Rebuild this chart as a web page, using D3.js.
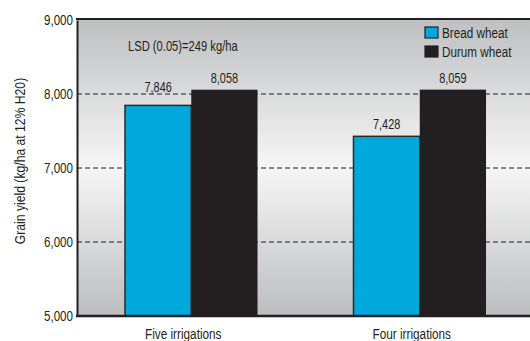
<!DOCTYPE html>
<html>
<head>
<meta charset="utf-8">
<script src="https://cdn.jsdelivr.net/npm/d3@7"></script>
<style>
  html, body { margin: 0; padding: 0; background: #ffffff; }
  svg { display: block; }
  text { font-family: "Liberation Sans", Arial, sans-serif; fill: #231f20; }
</style>
</head>
<body>
<script>
// Grain yield by irrigation regime and wheat type
const groups = ["Five irrigations", "Four irrigations"];
const seriesNames = ["Bread wheat", "Durum wheat"];
const breadWheat = [7846, 7428];
const durumWheat = [8058, 8059];
const yTicks = [5000, 6000, 7000, 8000, 9000];
const gridValues = [6000, 7000, 8000];
const lsdNote = "LSD (0.05)=249 kg/ha";
const yTitle = "Grain yield (kg/ha at 12% H20)";

const colors = ["#00a8dc", "#231f20"];
const W = 530, H = 341;
const m = { top: 20, right: -4, bottom: 25, left: 77 };
const fmt = d3.format(",");

const svg = d3.select("body").append("svg").attr("width", W).attr("height", H);

const x0 = d3.scaleBand().domain(groups).range([m.left, W - m.right]).paddingInner(0.42).paddingOuter(0.21);
const x1 = d3.scaleBand().domain(seriesNames).range([0, x0.bandwidth()]);
const y = d3.scaleLinear().domain([5000, 9000]).range([H - m.bottom, m.top]);

// Condensed lettering: a horizontally squeezed sans placed at (x, y)
function label(parent, x, yy, str, size, sx, anchor) {
  return parent.append("text")
    .attr("transform", `translate(${x},${yy}) scale(${sx},1)`)
    .attr("font-size", size)
    .attr("text-anchor", anchor || "start")
    .text(str);
}

// Plot background: grey fading to white in the middle and back to grey
const defs = svg.append("defs");
const grad = defs.append("linearGradient").attr("id", "bg").attr("x1", 0).attr("y1", 0).attr("x2", 0).attr("y2", 1);
grad.append("stop").attr("offset", "0%").attr("stop-color", "#bfc0c2");
grad.append("stop").attr("offset", "50%").attr("stop-color", "#f6f6f6");
grad.append("stop").attr("offset", "100%").attr("stop-color", "#bcbdbf");

svg.append("rect")
  .attr("x", m.left).attr("y", y(9000))
  .attr("width", W - m.left).attr("height", y(5000) - y(9000))
  .attr("fill", "url(#bg)");

// Dashed reference lines
svg.append("g").selectAll("line").data(gridValues).join("line")
  .attr("x1", m.left).attr("x2", W)
  .attr("y1", d => y(d)).attr("y2", d => y(d))
  .attr("stroke", "#231f20").attr("stroke-width", 1)
  .attr("stroke-dasharray", "5,3");

// Bars
const rows = groups.map((g, i) => ({ group: g, values: [breadWheat[i], durumWheat[i]] }));
const gBars = svg.append("g").selectAll("g").data(rows).join("g")
  .attr("transform", d => `translate(${x0(d.group)},0)`);

gBars.selectAll("rect").data(d => d.values.map((v, j) => ({ key: seriesNames[j], v, j }))).join("rect")
  .attr("x", d => x1(d.key))
  .attr("y", d => y(d.v))
  .attr("width", x1.bandwidth())
  .attr("height", d => y(5000) - y(d.v))
  .attr("fill", d => colors[d.j])
  .attr("stroke", d => d.j === 0 ? "#2b2a2b" : "none")
  .attr("stroke-width", 1.5);

// Value labels, lifted clear of a dashed line when they would sit on one
function labelY(v) {
  let base = y(v) - 7;
  for (const gv of gridValues) {
    const gy = y(gv);
    if (gy > base - 11 && gy < base + 1) base = gy - 2.5;
  }
  return base;
}
gBars.each(function (d) {
  const g = d3.select(this);
  d.values.forEach((v, j) => {
    label(g, x1(seriesNames[j]) + x1.bandwidth() / 2, labelY(v), fmt(v), 14, 0.78, "middle");
  });
});

// Frame: top, left and bottom rules
svg.append("line").attr("x1", m.left - 1).attr("x2", W).attr("y1", y(9000) - 1).attr("y2", y(9000) - 1)
  .attr("stroke", "#231f20").attr("stroke-width", 2);
svg.append("line").attr("x1", m.left - 1).attr("x2", W).attr("y1", y(5000)).attr("y2", y(5000))
  .attr("stroke", "#231f20").attr("stroke-width", 2.5);

const yAxis = svg.append("g").attr("transform", `translate(${m.left},0)`)
  .call(d3.axisLeft(y).tickValues(yTicks).tickSize(0).tickPadding(5).tickFormat(fmt));
yAxis.select(".domain").attr("stroke", "#231f20").attr("stroke-width", 2);
yAxis.selectAll("text").attr("font-size", 14.5).attr("fill", "#231f20")
  .attr("font-family", null)
  .attr("transform", "scale(0.8,1)");

const xAxis = svg.append("g").attr("transform", `translate(-8,${y(5000)})`)
  .call(d3.axisBottom(x0).tickSize(0).tickPadding(12));
xAxis.select(".domain").remove();
xAxis.selectAll("text").attr("font-size", 15.5).attr("fill", "#231f20")
  .attr("font-family", null)
  .attr("transform", "scale(0.76,1)");

// Axis title
svg.append("text")
  .attr("transform", `translate(25,${(y(5000) + y(9000)) / 2 - 7}) rotate(-90) scale(0.84,1)`)
  .attr("text-anchor", "middle")
  .attr("font-size", 14.5)
  .text(yTitle);

// Significance note
label(svg, 128, 51, lsdNote, 14, 0.8);

// Legend
const leg = svg.append("g").selectAll("g").data(seriesNames).join("g")
  .attr("transform", (d, i) => `translate(425,${27 + i * 19})`);
leg.append("rect").attr("width", 13).attr("height", 11)
  .attr("fill", (d, i) => colors[i])
  .attr("stroke", "#231f20").attr("stroke-width", 1.2);
leg.each(function (d) { label(d3.select(this), 17, 11, d, 15, 0.78); });
</script>
</body>
</html>
